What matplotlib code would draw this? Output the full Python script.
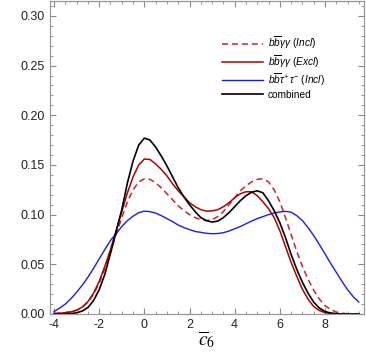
import matplotlib
matplotlib.use("Agg")
import matplotlib.pyplot as plt
from matplotlib.ticker import MultipleLocator, FormatStrFormatter

plt.rcParams['font.family'] = ['Liberation Sans', 'DejaVu Sans']
plt.rcParams['mathtext.fontset'] = 'custom'
plt.rcParams['mathtext.it'] = 'Liberation Sans:italic'
plt.rcParams['mathtext.rm'] = 'Liberation Sans'

x = [-4 + 0.25 * i for i in range(55)]

black = [0.0000, 0.0001, 0.0002, 0.0005, 0.0012, 0.0030, 0.0065, 0.0135, 0.0245, 0.040,
         0.061, 0.083, 0.105, 0.132, 0.154, 0.170, 0.177, 0.175, 0.168, 0.159,
         0.149, 0.138, 0.127, 0.118, 0.110, 0.103, 0.097, 0.094, 0.0925, 0.0935,
         0.097, 0.102, 0.108, 0.114, 0.119, 0.1225, 0.124, 0.122, 0.114, 0.104,
         0.092, 0.077, 0.060, 0.045, 0.032, 0.021, 0.012, 0.006, 0.0025, 0.001,
         0.0003, 0.0001, 0.0, 0.0, 0.0]

red = [0.0005, 0.0008, 0.0013, 0.0022, 0.0038, 0.0070, 0.0125, 0.021, 0.033, 0.048,
       0.065, 0.084, 0.103, 0.122, 0.138, 0.150, 0.156, 0.1555, 0.151, 0.1455,
       0.139, 0.131, 0.124, 0.118, 0.112, 0.108, 0.105, 0.1035, 0.1038, 0.105,
       0.108, 0.112, 0.117, 0.121, 0.123, 0.123, 0.119, 0.113, 0.106, 0.097,
       0.084, 0.068, 0.052, 0.038, 0.025, 0.015, 0.0075, 0.0035, 0.0013, 0.0005,
       0.0002, 0.0001, 0.0, 0.0, 0.0]

dashed = [0.0005, 0.0008, 0.0013, 0.0022, 0.0038, 0.0068, 0.012, 0.020, 0.031, 0.046,
          0.063, 0.080, 0.097, 0.113, 0.125, 0.133, 0.136, 0.1355, 0.132, 0.127,
          0.121, 0.115, 0.109, 0.104, 0.100, 0.097, 0.095, 0.094, 0.095, 0.098,
          0.103, 0.110, 0.117, 0.124, 0.129, 0.133, 0.1355, 0.136, 0.133, 0.125,
          0.113, 0.097, 0.080, 0.063, 0.048, 0.035, 0.024, 0.015, 0.0085, 0.0045,
          0.002, 0.0008, 0.0003, 0.0001, 0.0]

blue = [0.0025, 0.006, 0.010, 0.0155, 0.022, 0.029, 0.037, 0.046, 0.0555, 0.065,
        0.074, 0.081, 0.088, 0.094, 0.0985, 0.1020, 0.1035, 0.1030, 0.1015, 0.099,
        0.096, 0.093, 0.0895, 0.087, 0.085, 0.083, 0.0822, 0.0812, 0.0808, 0.081,
        0.0818, 0.0835, 0.0858, 0.088, 0.0908, 0.0935, 0.096, 0.098, 0.100, 0.1017,
        0.1027, 0.1033, 0.1025, 0.099, 0.094, 0.087, 0.079, 0.070, 0.0606, 0.051,
        0.042, 0.033, 0.0245, 0.0175, 0.012]

labels = [r'$b\overline{b}\gamma\gamma$ $\mathit{(Incl)}$',
          r'$b\overline{b}\gamma\gamma$ $\mathit{(Excl)}$',
          r'$b\overline{b}\tau^{+}\,\tau^{-}$ $\mathit{(Incl)}$',
          'combined']

fig = plt.figure(figsize=(3.66, 3.54), dpi=100)
ax = fig.add_axes([50/366, 1 - 314/354, 314/366, 313/354])

ax.plot(x, dashed, color='#c8262b', lw=1.1, ls=(0, (4, 2.5)), label=labels[0])
ax.plot(x, red, color='#b20000', lw=1.1, label=labels[1])
ax.plot(x, blue, color='#1a1aff', lw=1.0, label=labels[2])
ax.plot(x, black, color='black', lw=1.2, label=labels[3])

ax.set_xlim(-4.18, 9.73)
ax.set_ylim(0, 0.315)
ax.xaxis.set_major_locator(MultipleLocator(2))
ax.xaxis.set_minor_locator(MultipleLocator(0.5))
ax.yaxis.set_major_locator(MultipleLocator(0.05))
ax.yaxis.set_minor_locator(MultipleLocator(0.01))
ax.yaxis.set_major_formatter(FormatStrFormatter('%.2f'))
ax.xaxis.set_major_formatter(FormatStrFormatter('%d'))
ax.tick_params(which='both', direction='in', top=True, right=True,
               color='#888888', labelsize=9, labelcolor='#222222')
ax.tick_params(which='major', length=4, width=0.8)
ax.tick_params(which='minor', length=2.2, width=0.6)
for s in ax.spines.values():
    s.set_color('#999999')
    s.set_linewidth(0.9)

ax.set_xlabel(r'$\overline{c}_6$', fontsize=14, math_fontfamily='stix', labelpad=-1)

leg = ax.legend(loc='upper left', bbox_to_anchor=(0.548, 0.892), frameon=False,
                borderpad=0, borderaxespad=0,
                fontsize=7.3, handlelength=4.0, handletextpad=0.5, labelspacing=0.18)

fig.savefig('out.png', dpi=100)
